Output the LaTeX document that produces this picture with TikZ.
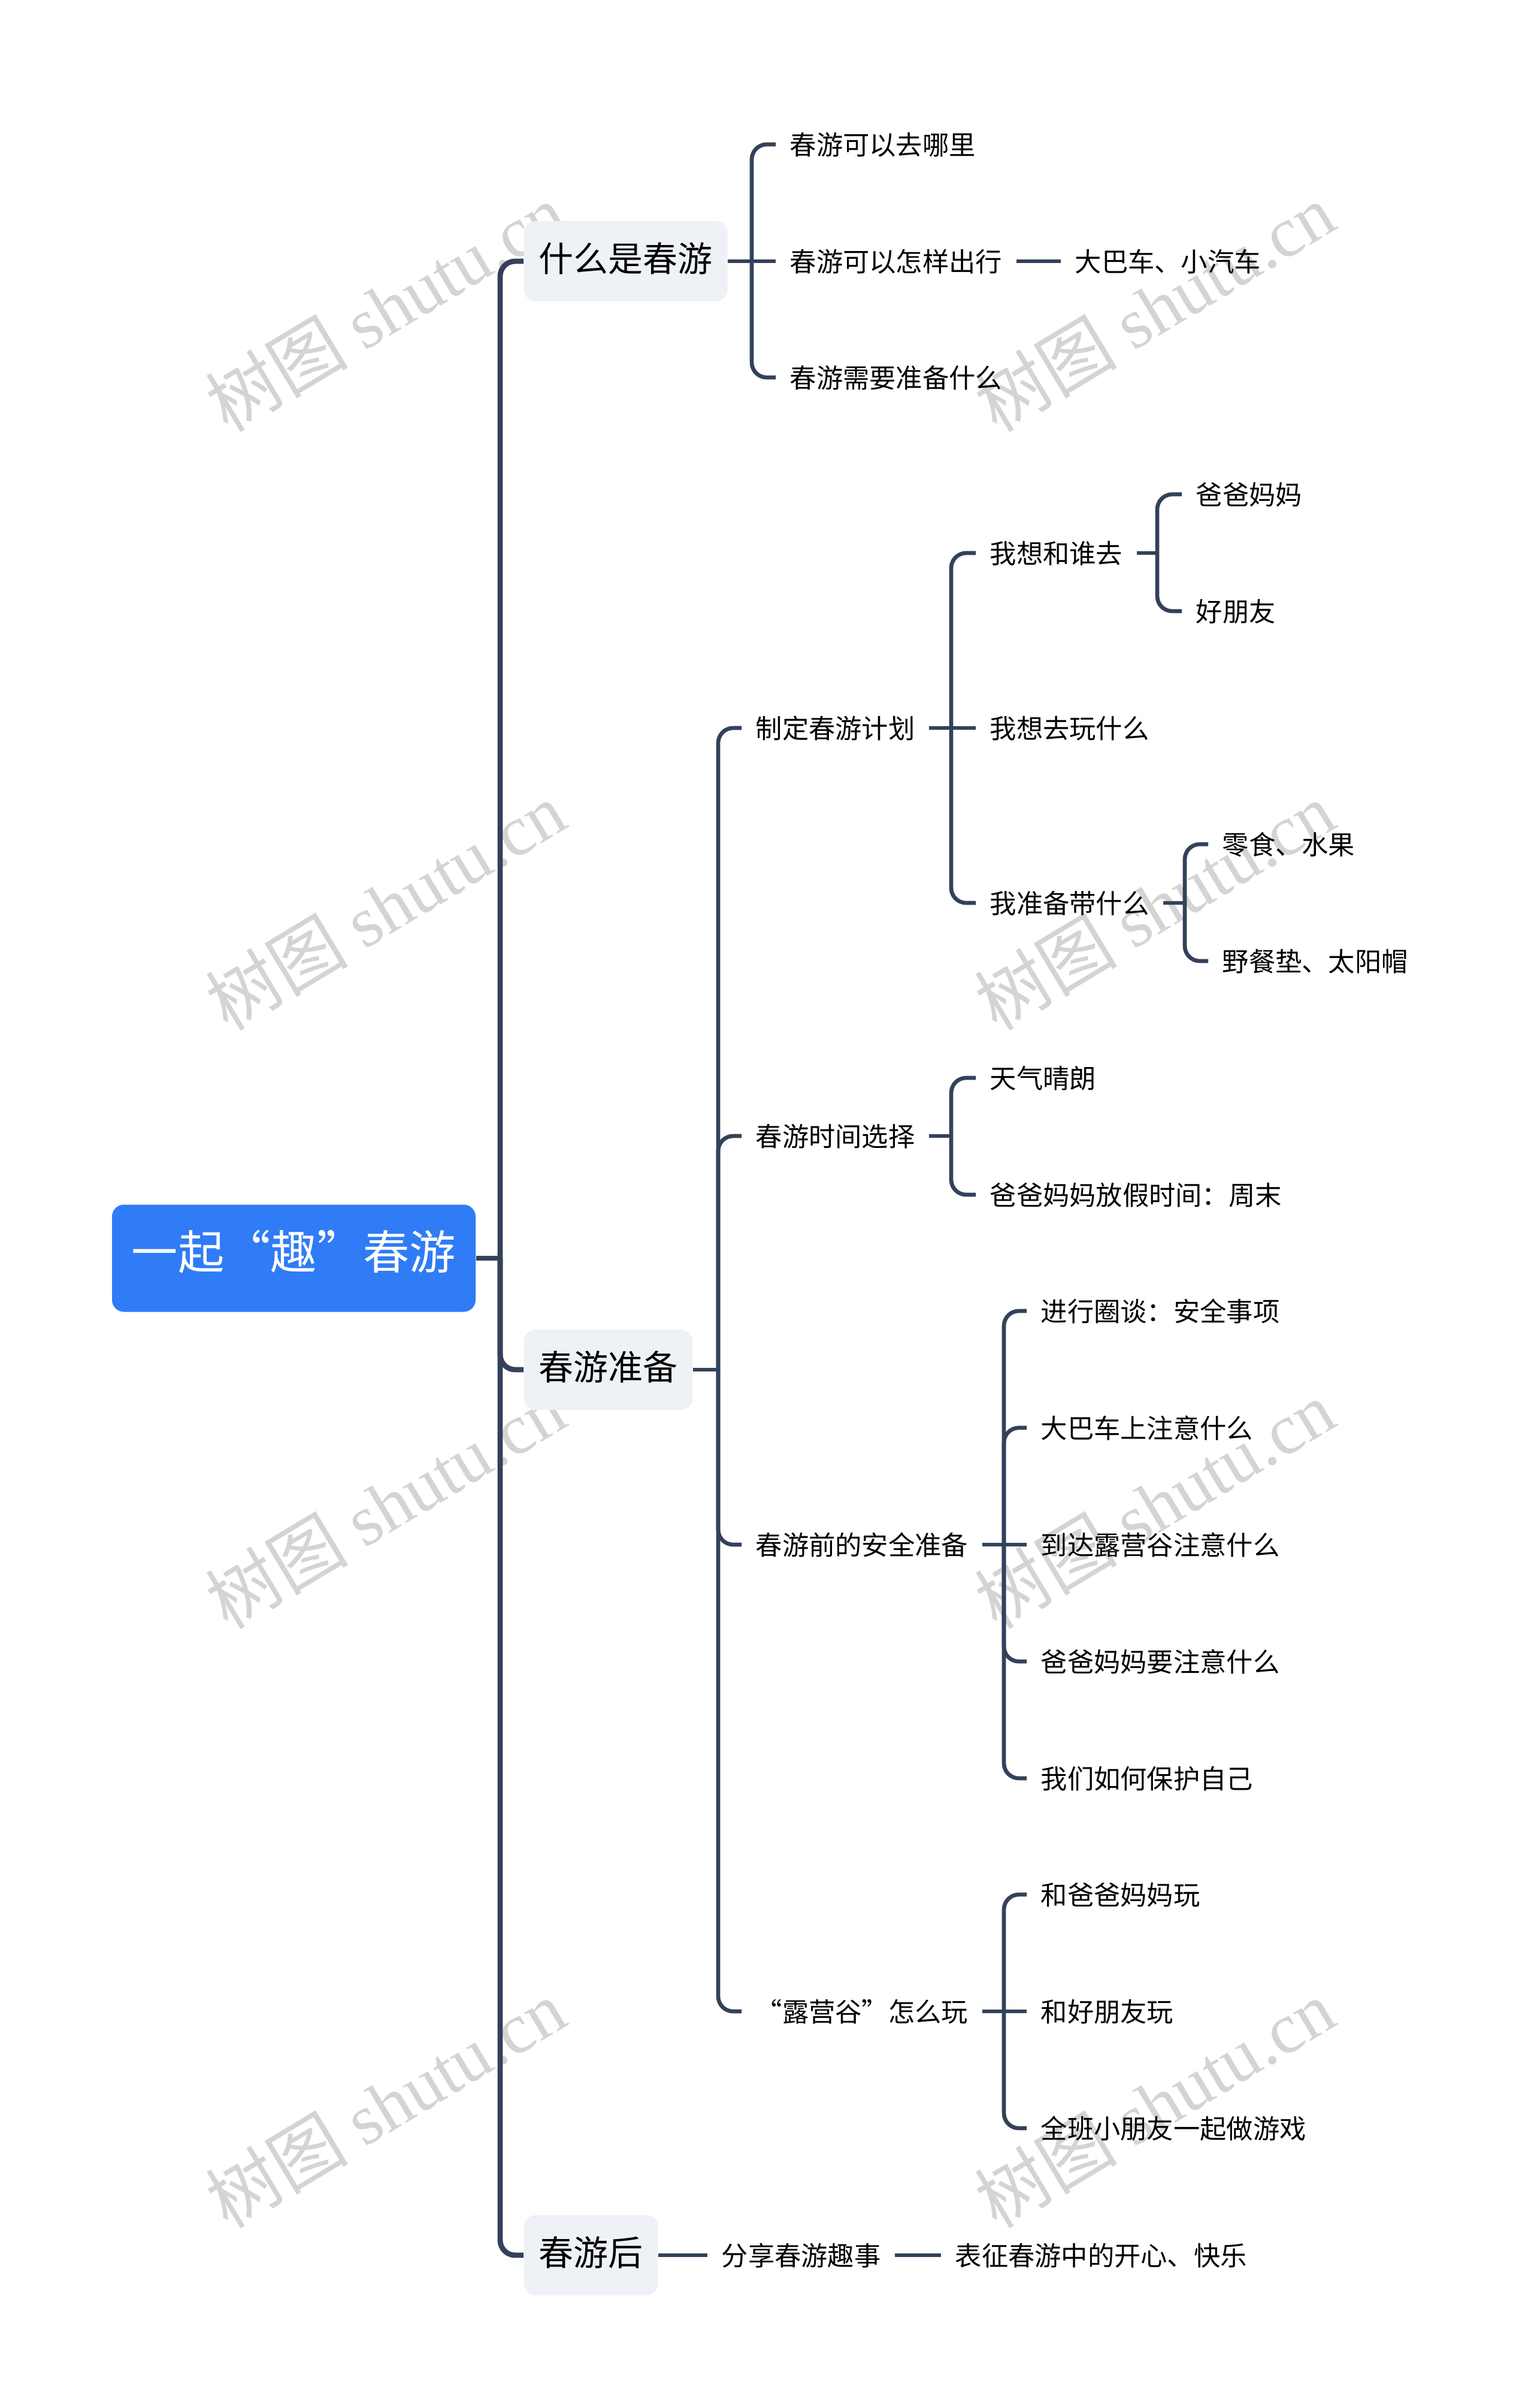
\documentclass[tikz,border=0pt]{standalone}
\usepackage{fontspec}
\usepackage{xcolor}
\usepackage{tikz}
\setmainfont{Noto Sans CJK SC}
\newfontfamily\wmserif{Liberation Serif}
\definecolor{linecol}{HTML}{33425A}
\definecolor{rootblue}{HTML}{2F7CF6}
\definecolor{topicgray}{HTML}{EEF1F5}
\definecolor{wmgray}{HTML}{D4D4D4}

\begin{document}
\begin{tikzpicture}[
  link/.style={draw=linecol, line width=1.9pt, rounded corners=0.25cm},
  mainlink/.style={link, line width=2.5pt},
  leaf/.style={anchor=west, inner xsep=0.23cm, inner ysep=0pt, text height=1.0em, text depth=0em, font=\fontsize{12.6}{15}\selectfont},
  topic/.style={anchor=west, fill=topicgray, rounded corners=0.2cm, minimum height=1.34cm, inner xsep=0.25cm, text height=1.0em, text depth=0em, font=\fontsize{16.5}{19}\selectfont},
  rootbox/.style={fill=rootblue, text=white, rounded corners=0.2cm, minimum width=6.07cm, minimum height=1.79cm, text height=1.04em, text depth=0em, font=\fontsize{22}{26}\selectfont},
  wm/.style={text=wmgray, rotate=31, font=\fontsize{34}{36}\selectfont}
]
  \useasboundingbox (0,0) rectangle (25.6,-40.19);

  % watermarks
  \foreach \wx in {6.43,19.27}
    \foreach \wy in {-5.13,-15.12,-25.11,-35.11}
      \node[wm] at (\wx,\wy) {树图 {\wmserif shutu.cn}};

  % root and main topics
  \node[rootbox] (root) at (4.905,-21.0) {一起“趣”春游};
  \coordinate (trunk) at (8.35,-21.0);
  \node[topic] (what) at (8.74,-4.36) {什么是春游};
  \node[topic] (prep) at (8.74,-22.86) {春游准备};
  \node[topic] (after) at (8.74,-37.64) {春游后};
  \draw[mainlink] (root.east) -- (trunk);
  \foreach \t in {what,prep,after}
    \draw[mainlink] (trunk) |- (\t.west);

  % what
  \coordinate (bwhat) at (12.55,-4.36);
  \node[leaf] (where) at (12.95,-2.41) {春游可以去哪里};
  \node[leaf] (how) at (12.95,-4.36) {春游可以怎样出行};
  \node[leaf] (need) at (12.95,-6.30) {春游需要准备什么};
  \node[leaf] (bus) at (17.71,-4.36) {大巴车、小汽车};
  \draw[link] (what.east) -- (how.west);
  \foreach \c in {where,need}
    \draw[link] (bwhat) |- (\c.west);
  \draw[link] (how.east) -- (bus.west);

  % prep
  \coordinate (bprep) at (11.99,-22.86);
  \node[leaf] (plan) at (12.38,-12.15) {制定春游计划};
  \node[leaf] (when) at (12.38,-18.96) {春游时间选择};
  \node[leaf] (safe) at (12.38,-25.78) {春游前的安全准备};
  \node[leaf] (camp) at (12.38,-33.57) {“露营谷”怎么玩};
  \draw[link] (prep.east) -- (bprep);
  \foreach \c in {plan,when,safe,camp}
    \draw[link] (bprep) |- (\c.west);

  % plan
  \coordinate (bplan) at (15.88,-12.15);
  \node[leaf] (who) at (16.29,-9.23) {我想和谁去};
  \node[leaf] (play) at (16.29,-12.15) {我想去玩什么};
  \node[leaf] (bring) at (16.29,-15.07) {我准备带什么};
  \draw[link] (plan.east) -- (play.west);
  \foreach \c in {who,bring}
    \draw[link] (bplan) |- (\c.west);

  \coordinate (bwho) at (19.32,-9.23);
  \node[leaf] (parents) at (19.73,-8.25) {爸爸妈妈};
  \node[leaf] (friends) at (19.73,-10.20) {好朋友};
  \draw[link] (who.east) -- (bwho);
  \foreach \c in {parents,friends}
    \draw[link] (bwho) |- (\c.west);

  \coordinate (bbring) at (19.78,-15.07);
  \node[leaf] (snack) at (20.17,-14.09) {零食、水果};
  \node[leaf] (mat) at (20.17,-16.04) {野餐垫、太阳帽};
  \draw[link] (bring.east) -- (bbring);
  \foreach \c in {snack,mat}
    \draw[link] (bbring) |- (\c.west);

  % when
  \coordinate (bwhen) at (15.88,-18.96);
  \node[leaf] (sunny) at (16.29,-17.99) {天气晴朗};
  \node[leaf] (weekend) at (16.29,-19.94) {爸爸妈妈放假时间：周末};
  \draw[link] (when.east) -- (bwhen);
  \foreach \c in {sunny,weekend}
    \draw[link] (bwhen) |- (\c.west);

  % safe
  \coordinate (bsafe) at (16.76,-25.78);
  \node[leaf] (talk) at (17.14,-21.88) {进行圈谈：安全事项};
  \node[leaf] (onbus) at (17.14,-23.83) {大巴车上注意什么};
  \node[leaf] (arrive) at (17.14,-25.78) {到达露营谷注意什么};
  \node[leaf] (adults) at (17.14,-27.73) {爸爸妈妈要注意什么};
  \node[leaf] (self) at (17.14,-29.68) {我们如何保护自己};
  \draw[link] (safe.east) -- (arrive.west);
  \foreach \c in {talk,onbus,adults,self}
    \draw[link] (bsafe) |- (\c.west);

  % camp
  \coordinate (bcamp) at (16.76,-33.57);
  \node[leaf] (withpa) at (17.14,-31.62) {和爸爸妈妈玩};
  \node[leaf] (withfr) at (17.14,-33.57) {和好朋友玩};
  \node[leaf] (games) at (17.14,-35.52) {全班小朋友一起做游戏};
  \draw[link] (camp.east) -- (withfr.west);
  \foreach \c in {withpa,games}
    \draw[link] (bcamp) |- (\c.west);

  % after
  \node[leaf] (share) at (11.81,-37.64) {分享春游趣事};
  \node[leaf] (joy) at (15.71,-37.64) {表征春游中的开心、快乐};
  \draw[link] (after.east) -- (share.west);
  \draw[link] (share.east) -- (joy.west);
\end{tikzpicture}
\end{document}
